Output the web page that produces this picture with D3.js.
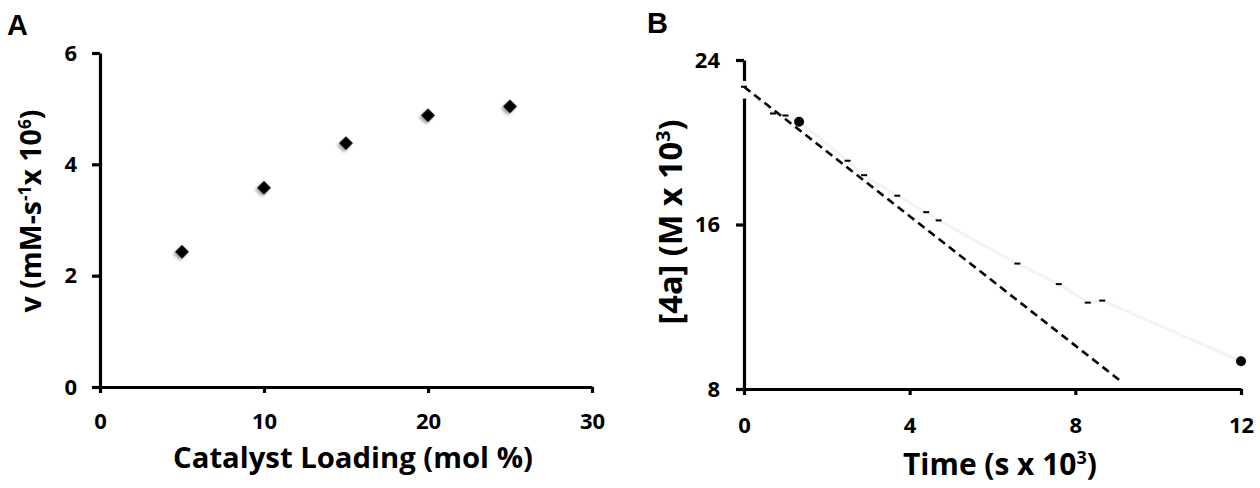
<!DOCTYPE html>
<html>
<head>
<meta charset="utf-8">
<script src="https://cdn.jsdelivr.net/npm/d3@7"></script>
<style>
  body { margin: 0; background: #fff; }
  svg text { font-family: "Open Sans", Lato, sans-serif; font-weight: bold; fill: #000; }
  svg .axis path.domain, svg .axis .tick line { stroke: #000 !important; stroke-width: 3.2px !important; }
  svg .axis .tick text { font-size: 22px !important; fill: #000; }
</style>
</head>
<body>
<div id="fig"></div>
<script>
// panel A: rate vs catalyst loading
let loading = [5, 10, 15, 20, 25];
let rate = [2.43, 3.58, 4.38, 4.88, 5.04];
let aXTicks = [0, 10, 20, 30];
let aYTicks = [0, 2, 4, 6];

// panel B: [4a] vs time, with linear fit
let time = [0, 0.7, 1.0, 1.33, 2.5, 2.9, 3.7, 4.4, 4.7, 6.6, 7.6, 8.3, 8.65, 12];
let conc = [22.7, 21.4, 21.3, 21.0, 19.1, 18.4, 17.4, 16.6, 16.2, 14.1, 13.1, 12.2, 12.3, 9.35];
let fitIntercept = 22.7;
let fitSlope = -1.574;
let fitEnd = 9.06;
let bXTicks = [0, 4, 8, 12];
let bYTicks = [8, 16, 24];

function styleAxis (g) {
    g.attr("class", "axis").attr("font-size", 22).attr("stroke-width", 3.2);
    g.select(".domain").style("stroke", "#000").style("stroke-width", "3.2px");
    g.selectAll(".tick line").style("stroke", "#000").style("stroke-width", "3.2px");
    g.selectAll(".tick text").style("font-size", "22px").style("fill", "#000");
}

// scale a title so its length matches the picture
function fitTitle (t, target) {
    let w = t.node().getBBox().width;
    let k = target / w;
    t.style("font-size", (28 * k) + "px");
    t.selectAll("tspan.sup")
        .style("font-size", (17 * k) + "px")
        .attr("dy", -10 * k);
    t.selectAll("tspan.down").attr("dy", 10 * k);
}

class Figure {

    constructor () {
        this.svg = d3.select("#fig").append("svg")
            .attr("width", 1260)
            .attr("height", 488);

        let f = this.svg.append("defs").append("filter").attr("id", "shadow")
            .attr("x", "-50%").attr("y", "-50%").attr("width", "200%").attr("height", "200%");
        f.append("feGaussianBlur").attr("in", "SourceAlpha").attr("stdDeviation", 1.6);
        f.append("feOffset").attr("dx", 0).attr("dy", 3).attr("result", "off");
        f.append("feComponentTransfer").append("feFuncA").attr("type", "linear").attr("slope", 0.35);
        let m = f.append("feMerge");
        m.append("feMergeNode");
        m.append("feMergeNode").attr("in", "SourceGraphic");
    }

    title (x, y, rot, parts, target) {
        let t = this.svg.append("text")
            .attr("transform", "translate(" + x + "," + y + ")" + (rot ? " rotate(-90)" : ""))
            .attr("text-anchor", "middle")
            .style("font-size", "28px");
        let up = false;
        parts.forEach(function(p){
            let s = t.append("tspan").text(p.text);
            if (p.sup) {
                s.attr("class", "sup").attr("dy", -10).style("font-size", "17px");
                up = true;
            } else if (up) {
                s.attr("class", "down").attr("dy", 10);
                up = false;
            }
        });
        fitTitle(t, target);
    }

    letter (x, y, s) {
        this.svg.append("text")
            .attr("x", x).attr("y", y)
            .style("font-family", "Arial, 'Liberation Sans', sans-serif")
            .style("font-size", "29px")
            .text(s);
    }

    panelA () {
        let svg = this.svg;
        let x = d3.scaleLinear().domain([0, 30]).range([100, 592]);
        let y = d3.scaleLinear().domain([0, 6]).range([387, 53]);

        let gx = svg.append("g").attr("transform", "translate(0," + y(0) + ")")
            .call(d3.axisBottom(x).tickValues(aXTicks).tickFormat(d3.format("d"))
                .tickSize(6).tickSizeOuter(0).tickPadding(20));
        styleAxis(gx);
        let gy = svg.append("g").attr("transform", "translate(" + x(0) + ",0)")
            .call(d3.axisLeft(y).tickValues(aYTicks).tickFormat(d3.format("d"))
                .tickSize(8).tickSizeOuter(0).tickPadding(15));
        styleAxis(gy);

        svg.selectAll(".diamond")
            .data(loading)
            .enter()
            .append("path")
            .attr("class", "diamond")
            .attr("d", d3.symbol().type(d3.symbolSquare).size(95))
            .attr("transform", function(d, i){
                return "translate(" + x(d) + "," + y(rate[i]) + ") rotate(45)";
            })
            .attr("fill", "#000")
            .attr("filter", "url(#shadow)");

        this.letter(7, 35, "A");
        this.title(353, 468, false, [{text: "Catalyst Loading (mol %)"}], 360);
        this.title(41, 211, true, [
            {text: "v (mM-s"}, {text: "-1", sup: true}, {text: "x 10"}, {text: "6", sup: true}, {text: ")"}
        ], 203);
    }

    panelB () {
        let svg = this.svg;
        let x = d3.scaleLinear().domain([0, 12]).range([744, 1241]);
        let y = d3.scaleLinear().domain([8, 24]).range([389, 60]);

        let gx = svg.append("g").attr("transform", "translate(0," + y(8) + ")")
            .call(d3.axisBottom(x).tickValues(bXTicks).tickFormat(d3.format("d"))
                .tickSize(6).tickSizeOuter(0).tickPadding(22));
        styleAxis(gx);
        let gy = svg.append("g").attr("transform", "translate(" + x(0) + ",0)")
            .call(d3.axisLeft(y).tickValues(bYTicks).tickFormat(d3.format("d"))
                .tickSize(8).tickSizeOuter(0).tickPadding(16));
        styleAxis(gy);

        // faint measured curve
        let line = d3.line()
            .x(function(d){ return x(d); })
            .y(function(d, i){ return y(conc[i]); });
        svg.append("path")
            .attr("d", line(time))
            .attr("fill", "none")
            .attr("stroke", "#f3f3f3")
            .attr("stroke-width", 3);

        // white marker at t=0 hides part of the axis
        svg.append("circle")
            .attr("cx", x(time[0])).attr("cy", y(conc[0]) + 3)
            .attr("r", 9)
            .attr("fill", "#fff");

        // dashed linear fit
        svg.append("line")
            .attr("x1", x(0)).attr("y1", y(fitIntercept))
            .attr("x2", x(fitEnd)).attr("y2", y(fitIntercept + fitSlope * fitEnd))
            .attr("stroke", "#000")
            .attr("stroke-width", 2.6)
            .attr("stroke-dasharray", "8,5");

        let last = time.length - 1;
        svg.selectAll(".pt")
            .data(time)
            .enter()
            .append("path")
            .attr("class", "pt")
            .attr("d", function(d, i){
                if (i == 3 || i == last)
                    return d3.symbol().type(d3.symbolCircle).size(50)();
                return "M-3,0H3";
            })
            .attr("transform", function(d, i){
                return "translate(" + x(d) + "," + y(conc[i]) + ")";
            })
            .attr("fill", "#000")
            .attr("stroke", "#000")
            .attr("stroke-width", 2);

        this.letter(647, 33, "B");
        this.title(1000, 475, false, [{text: "Time (s x 10"}, {text: "3", sup: true}, {text: ")"}], 194);
        this.title(682, 222, true, [{text: "[4a] (M x 10"}, {text: "3", sup: true}, {text: ")"}], 205);
    }
}

let fig = new Figure();
fig.panelA();
fig.panelB();
</script>
</body>
</html>
